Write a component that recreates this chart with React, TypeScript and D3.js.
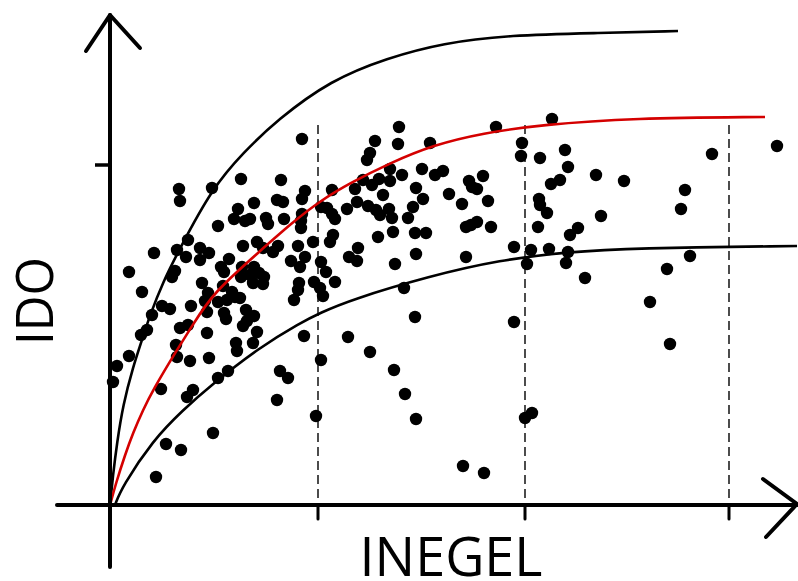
import React from "react";
import * as d3 from "d3";

const W = 798;
const H = 581;

// Observations: [INEGEL, IDO]
const observations: [number, number][] = [
  [69,316],[70,304],[102,317],[44,252],[19,233],[78,265],[67,255],[76,248],[90,257],[99,252],[90,245],[65,234],[62,228],[92,222],[32,213],[108,279],
  [131,326],[171,325],[195,314],[192,306],[167,305],[173,303],[144,302],[128,296],[124,286],[135,284],[140,286],[156,287],[158,281],[174,286],[192,291],[191,284],[191,277],[211,298],[217,297],[222,291],[225,286],[133,259],[147,263],[153,257],[163,253],[168,259],[188,259],[203,263],[119,246],[111,238],[114,233],[132,238],[144,238],[149,232],[154,228],[131,228],[140,230],[143,222],[153,221],[195,248],[190,238],[181,244],[211,243],[113,219],[189,222],[204,223],[188,215],[184,205],[98,212],[122,213],[125,208],[130,207],[108,203],[117,205],
  [52,199],[60,196],[81,199],[95,204],[42,190],[97,193],[37,175],[31,170],[70,177],[78,180],[97,172],[66,160],[19,149],[67,148],[80,144],[99,147],[7,139],[3,123],[51,116],[83,115],[77,108],[103,72],[56,61],[71,55],[46,28],
  [114,192],[116,186],[136,195],[144,189],[137,184],[133,179],[126,162],[127,154],[143,162],[147,173],[108,127],[118,134],[170,134],[178,127],[167,105],[194,169],[206,89],[211,145],
  [210,217],[213,209],[225,223],[294,217],[305,188],[238,168],[260,153],[284,135],[295,111],[306,86],[353,39],[374,32],[404,183],[415,87],[422,92],
  [192,366],[289,378],[386,378],[265,364],[288,361],[320,362],[412,362],[411,349],[430,347],[260,352],[257,345],[280,336],[292,330],[312,336],[325,330],[333,334],[373,329],[359,324],[362,318],[367,316],[269,326],[262,320],[253,325],[245,316],[280,324],[273,310],[306,317],[313,306],[339,311],[352,301],[378,304],[303,298],[247,303],[258,299],[266,295],[270,290],[279,296],[282,287],[298,287],[237,296],[222,315],[223,270],[220,263],[268,268],[283,273],[305,272],[316,272],[356,278],[361,280],[367,283],[381,278],[404,258],[421,255],[417,241],[248,257],[239,248],[247,244],[306,251],[356,248],[285,241],[216,233],
  [442,386],[455,355],[458,338],[486,330],[514,324],[602,351],[667,359],[450,325],[441,321],[429,306],[430,300],[437,292],[575,315],[571,296],[491,289],[428,278],[468,277],[460,270],[439,256],[458,253],[456,242],[475,227],[557,236],[580,249],[540,203],[560,161],
];

// Envelope curves and the fitted curve
const upperBound: [number, number][] = [
  [0,0],[3,30],[7,62],[13,100],[23,138],[32,165],[40,190],[53,223],[69,255],[103,318],[133,352],[167,385],[221,425],[277,447],[333,462],[399,470],[490,472],[568,474],
];
const fittedCurve: [number, number][] = [
  [0,0],[6,22],[15,50],[23,72],[33,95],[43,115],[65,152],[84,182],[103,212],[150,254],[183,283],[210,304],[240,322],[280,342],[323,360],[373,372],[430,380],[523,387],[655,388],
];
const lowerBound: [number, number][] = [
  [5,0],[12,18],[43,65],[73,95],[100,119],[150,158],[190,182],[210,192],[240,205],[320,229],[390,245],[457,253],[523,257],[687,259],
];

const xGuides = [208, 415, 619];
const yTicks = [340];
const guideTop = 380;

export default function App() {
  const x = d3.scaleLinear().domain([0, 620]).range([110, 730]);
  const y = d3.scaleLinear().domain([0, 340]).range([505, 165]);
  const line = d3
    .line<[number, number]>()
    .x((d) => x(d[0]))
    .y((d) => y(d[1]))
    .curve(d3.curveBasis);

  const x0 = x(0);
  const y0 = y(0);
  const font = "'Open Sans', 'Noto Sans', sans-serif";

  return (
    <svg
      width={W}
      height={H}
      style={{ position: "absolute", left: 0, top: 0, background: "#fff" }}
    >
      <rect width={W} height={H} fill="#fff" />
      {/* vertical dashed guides */}
      {xGuides.map((g) => (
        <line
          key={"g" + g}
          x1={x(g)}
          x2={x(g)}
          y1={y(guideTop)}
          y2={y0}
          stroke="#000"
          strokeWidth={1.4}
          strokeDasharray="9 5"
        />
      ))}
      {/* x ticks */}
      {xGuides.map((g) => (
        <line
          key={"t" + g}
          x1={x(g)}
          x2={x(g)}
          y1={y0}
          y2={y0 + 14}
          stroke="#000"
          strokeWidth={3}
          strokeLinecap="round"
        />
      ))}
      {/* y ticks */}
      {yTicks.map((t) => (
        <line
          key={"yt" + t}
          x1={x0 - 15}
          x2={x0}
          y1={y(t)}
          y2={y(t)}
          stroke="#000"
          strokeWidth={3.5}
        />
      ))}
      {/* points */}
      {observations.map((d, i) => (
        <circle key={i} cx={x(d[0])} cy={y(d[1])} r={6.2} fill="#000" />
      ))}
      {/* curves */}
      <path d={line(upperBound) || ""} fill="none" stroke="#000" strokeWidth={2.6} />
      <path d={line(lowerBound) || ""} fill="none" stroke="#000" strokeWidth={2.6} />
      <path d={line(fittedCurve) || ""} fill="none" stroke="#d40000" strokeWidth={2.6} />
      {/* axes */}
      <g stroke="#000" strokeWidth={4} strokeLinecap="round" fill="none">
        <line x1={x0} x2={x0} y1={567} y2={15} />
        <polyline points={`86,51 ${x0},15 140,48`} strokeLinejoin="round" />
        <line x1={57} x2={797} y1={y0} y2={y0} />
        <polyline points={`763,479 797,${y0 - 1} 766,537`} strokeLinejoin="round" />
      </g>
      {/* axis titles */}
      <text
        x={451}
        y={576}
        textAnchor="middle"
        fontFamily={font}
        fontSize={54}
        textLength={183}
        lengthAdjust="spacingAndGlyphs"
        fill="#000"
      >
        INEGEL
      </text>
      <text
        transform="translate(53,301) rotate(-90)"
        textAnchor="middle"
        fontFamily={font}
        fontSize={52}
        textLength={88}
        lengthAdjust="spacingAndGlyphs"
        fill="#000"
      >
        IDO
      </text>
    </svg>
  );
}
